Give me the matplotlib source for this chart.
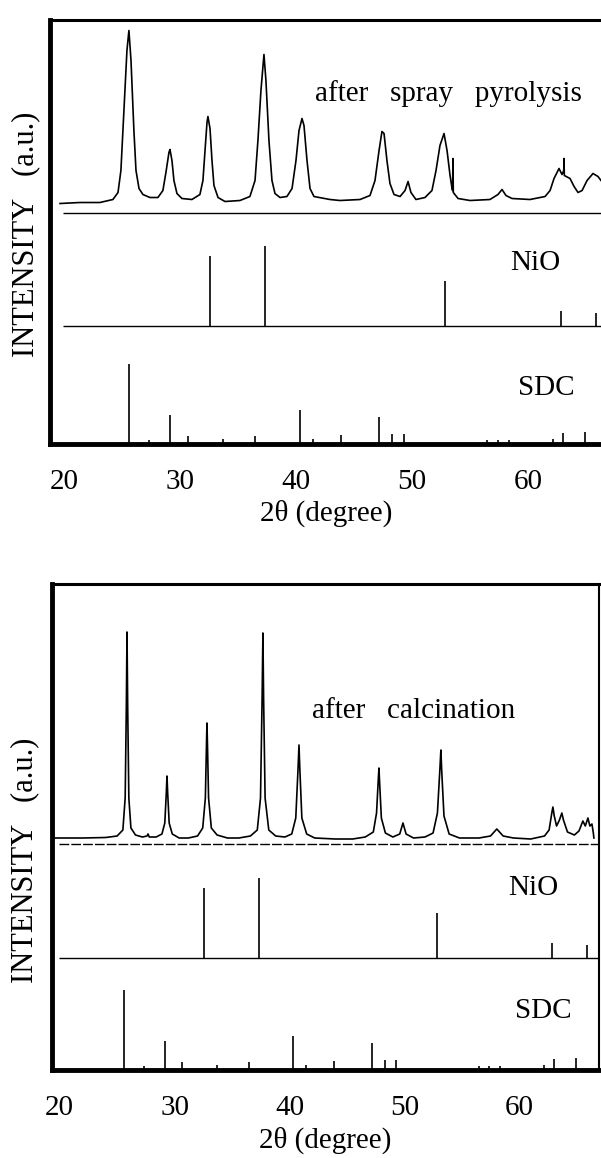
import matplotlib
matplotlib.use('Agg')
import matplotlib.pyplot as plt

plt.rcParams['font.family'] = ['Liberation Serif', 'DejaVu Serif']

# reference stick patterns (2theta in degree, relative intensity a.u.)
SDC_2theta = [25.60, 27.33, 29.14, 30.69, 33.71, 36.47, 40.34, 41.47, 43.88,
              47.16, 48.28, 49.31, 56.47, 57.41, 58.36, 62.16, 63.02, 64.91]
SDC_int = [80, 4, 29, 8, 5, 8, 34, 5, 9, 27, 10, 10, 4, 4, 4, 5, 11, 12]

NiO_2theta = [32.59, 37.33, 52.84, 62.84, 65.86]
NiO_int = [70, 80, 45, 15, 13]

spray_2theta = [19.66, 21.38, 23.10, 24.22, 24.66, 24.91, 25.17, 25.43, 25.60, 25.78,
                26.03, 26.21, 26.47, 26.81, 27.41, 28.10, 28.53, 28.79, 29.05, 29.14,
                29.31, 29.48, 29.74, 30.17, 31.03, 31.72, 31.98, 32.16, 32.33, 32.41,
                32.59, 32.76, 32.93, 33.28, 33.88, 35.17, 36.03, 36.47, 36.72, 36.98,
                37.24, 37.41, 37.67, 37.93, 38.19, 38.62, 39.22, 39.66, 40.00, 40.26,
                40.52, 40.69, 40.95, 41.21, 41.55, 42.93, 43.79, 45.52, 46.38, 46.81,
                47.16, 47.41, 47.59, 47.84, 48.10, 48.45, 48.97, 49.40, 49.66, 49.91,
                50.34, 51.12, 51.72, 52.07, 52.41, 52.76, 53.02, 53.28, 53.45, 53.50,
                53.53, 53.56, 53.97, 55.00, 56.72, 57.41, 57.76, 58.10, 58.62, 60.17,
                61.47, 61.90, 62.24, 62.50, 62.67, 62.93, 63.08, 63.10, 63.13, 63.62,
                63.97, 64.31, 64.66, 65.09, 65.60, 66.03, 66.29]
spray_int = [-3, -2, -2, 1, 8, 30, 90, 150, 170, 140,
             70, 30, 12, 6, 3, 3, 10, 28, 48, 51,
             40, 20, 7, 2, 1, 6, 20, 50, 78, 84,
             72, 40, 15, 3, -1, 0, 4, 20, 60, 110,
             146, 120, 60, 20, 7, 3, 4, 12, 40, 70,
             82, 75, 40, 12, 4, 1, 0, 1, 5, 20,
             50, 69, 67, 40, 17, 6, 4, 10, 19, 8,
             1, 3, 10, 30, 55, 67, 50, 25, 12, 10,
             42, 8, 2, 0, 1, 6, 11, 5, 2, 1,
             4, 10, 22, 28, 32, 26, 30, 42, 25, 22,
             14, 8, 10, 20, 27, 24, 20]

# measured pattern after calcination
calc_2theta = [19.60, 22.0, 24.0, 25.0, 25.5, 25.70, 25.80, 25.86, 25.92, 26.02,
               26.2, 26.6, 27.2, 27.6, 27.69, 27.8, 28.4, 28.9, 29.15, 29.28,
               29.34, 29.40, 29.53, 29.8, 30.4, 31.2, 32.0, 32.45, 32.68, 32.78,
               32.82, 32.87, 32.96, 33.2, 33.7, 34.6, 35.6, 36.6, 37.2, 37.48,
               37.62, 37.69, 37.75, 37.88, 38.2, 38.8, 39.6, 40.2, 40.55, 40.75,
               40.83, 40.90, 41.08, 41.5, 42.2, 44.0, 45.5, 46.6, 47.3, 47.58,
               47.73, 47.79, 47.85, 48.0, 48.35, 49.0, 49.6, 49.88, 50.15, 50.8,
               51.8, 52.5, 52.88, 53.10, 53.18, 53.25, 53.45, 53.9, 54.8, 56.5,
               57.5, 58.05, 58.6, 59.5, 61.0, 62.2, 62.6, 62.85, 62.93, 63.05,
               63.25, 63.5, 63.71, 63.85, 64.2, 64.8, 65.2, 65.54, 65.75, 65.98,
               66.15, 66.33, 66.45, 66.50]
calc_int = [0, 0, 0.5, 2, 8, 40, 130, 206, 130, 40,
            10, 3, 1, 2, 4, 1, 1, 4, 15, 45,
            62, 45, 15, 4, 0, 0, 2, 10, 40, 95,
            115, 90, 40, 10, 3, 0, 0, 2, 8, 40,
            140, 205, 140, 40, 8, 2, 1, 4, 20, 70,
            93, 70, 20, 4, 0, -1, -1, 1, 6, 25,
            58, 70, 55, 20, 5, 1, 4, 15, 4, 0,
            1, 5, 25, 70, 88, 68, 22, 4, 0, 0,
            2, 9, 2, 0, -1, 2, 8, 26, 31, 22,
            12, 18, 25, 18, 6, 3, 7, 17, 12, 20,
            12, 14, 5, 0]

xticks = [20, 30, 40, 50, 60]

fig = plt.figure(figsize=(6.01, 11.58), dpi=100)

# panel setup: [left, bottom, width, height], x range, y range, offsets of the 3 traces
panels = [
    dict(rect=[0.0840, 0.6170, 0.9160, 0.3653], xlim=(18.84, 66.29), ylim=(0, 423),
         x=spray_2theta, y=spray_int, text='after   spray   pyrolysis',
         scan_base=243, sep=231, nio_base=118, dashed=False,
         text_xy=(41.64, 350), nio_xy=(60.60, 181), sdc_xy=(61.55, 56),
         ylab_xy=(-0.045, 0.494), right=False),
    dict(rect=[0.0865, 0.0760, 0.9101, 0.4201], xlim=(19.33, 66.94), ylim=(0, 486.5),
         x=calc_2theta, y=calc_int, text='after   calcination',
         scan_base=232, sep=226, nio_base=112, dashed=True,
         text_xy=(41.96, 359), nio_xy=(61.19, 182), sdc_xy=(62.06, 59),
         ylab_xy=(-0.05, 0.43), right=True),
]

for p in panels:
    ax = fig.add_axes(p['rect'])
    # measured scan
    ax.plot(p['x'], [v + p['scan_base'] for v in p['y']], color='black', lw=1.2)
    # separator under the scan
    ls = (0, (7, 1.5)) if p['dashed'] else '-'
    ax.hlines(p['sep'], p['x'][0] + 0.3, p['xlim'][1], color='black', lw=1.0, linestyles=ls)
    # NiO reference
    ax.hlines(p['nio_base'], p['x'][0] + 0.3, p['xlim'][1], color='black', lw=1.0)
    ax.vlines(NiO_2theta, p['nio_base'], [h + p['nio_base'] for h in NiO_int],
              color='black', lw=1.2)
    # SDC reference, sits on the bottom frame
    ax.vlines(SDC_2theta, 0, SDC_int, color='black', lw=1.2)

    ax.text(p['text_xy'][0], p['text_xy'][1], p['text'], fontsize=21,
            ha='left', va='center')
    ax.text(p['nio_xy'][0], p['nio_xy'][1], 'NiO', fontsize=21, ha='center', va='center')
    ax.text(p['sdc_xy'][0], p['sdc_xy'][1], 'SDC', fontsize=21, ha='center', va='center')

    ax.set_xlim(p['xlim'])
    ax.set_ylim(p['ylim'])
    ax.set_xticks(xticks)
    ax.set_yticks([])
    ax.tick_params(axis='x', length=0, pad=18, labelsize=21)
    ax.set_xlabel('2θ (degree)', fontsize=21, labelpad=4)
    ax.set_ylabel('INTENSITY   (a.u.)', fontsize=22, va='center')
    ax.yaxis.set_label_coords(p['ylab_xy'][0], p['ylab_xy'][1])

    ax.spines['left'].set_linewidth(3.5)
    ax.spines['bottom'].set_linewidth(3.5)
    ax.spines['top'].set_linewidth(2.2)
    if p['right']:
        ax.spines['right'].set_linewidth(1.5)
    else:
        ax.spines['right'].set_visible(False)

fig.savefig('out.png', dpi=100)
